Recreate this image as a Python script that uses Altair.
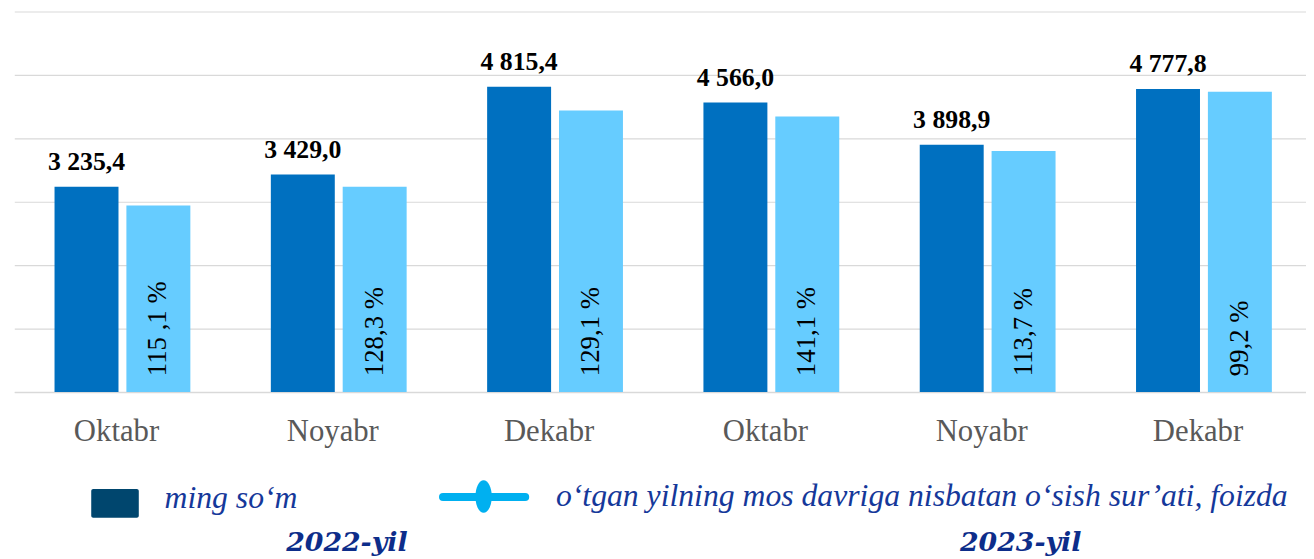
import altair as alt
import pandas as pd

# ---- data ----
months = ["Oktabr", "Noyabr", "Dekabr", "Oktabr", "Noyabr", "Dekabr"]
years = ["2022", "2022", "2022", "2023", "2023", "2023"]
ming_som = [3235.4, 3429.0, 4815.4, 4566.0, 3898.9, 4777.8]
growth_bar = [2940, 3235, 4440, 4345, 3800, 4735]  # drawn height of the light bars
growth_labels = ["115 ,1 %", "128,3 %", "129,1 %", "141,1 %", "113,7 %", "99,2 %"]
y_ticks = [0, 1000, 2000, 3000, 4000, 5000, 6000]
legend_labels = ["ming so\u2018m", "o\u2018tgan yilning mos davriga nisbatan o\u2018sish sur\u2019ati, foizda"]
year_labels = ["2022-yil", "2023-yil"]

keys = [f"{y}|{m}" for y, m in zip(years, months)]


def fmt(v):
    return f"{v:,.1f}".replace(",", " ").replace(".", ",")


rows = []
for k, v, g, gl in zip(keys, ming_som, growth_bar, growth_labels):
    rows.append({"key": k, "series": "a", "value": v, "label": fmt(v)})
    rows.append({"key": k, "series": "b", "value": g, "label": gl})
df = pd.DataFrame(rows)

SERIF = "Liberation Serif"
x_enc = alt.X(
    "key:N",
    sort=keys,
    scale=alt.Scale(range=[6.35, 1316.15], paddingInner=0, paddingOuter=0),
    axis=alt.Axis(
        title="",
        labelExpr="split(datum.label, '|')[1]",
        labelAngle=0,
        labelFont=SERIF,
        labelFontSize=31,
        labelColor="#595959",
        labelPadding=49,
        labelOffset=-6,
        labelBaseline="alphabetic",
        ticks=False,
        domainColor="#D9D9D9",
        domainWidth=1.5,
        grid=False,
    ),
)
xo_enc = alt.XOffset(
    "series:N",
    sort=["a", "b"],
    scale=alt.Scale(domain=["a", "b"], paddingInner=0.11, paddingOuter=0.56),
)
y_enc = alt.Y(
    "value:Q",
    scale=alt.Scale(domain=[0, 6000], nice=False, zero=True),
    axis=alt.Axis(
        title="",
        labels=False,
        ticks=False,
        domain=False,
        values=y_ticks,
        grid=True,
        gridColor="#D9D9D9",
        gridWidth=1.2,
        minExtent=0,
    ),
)

base = alt.Chart(df)

bars = base.mark_bar().encode(
    x=x_enc,
    xOffset=xo_enc,
    y=y_enc,
    color=alt.Color(
        "series:N",
        scale=alt.Scale(domain=["a", "b"], range=["#0070C0", "#66CCFF"]),
        legend=None,
    ),
)

value_text = base.transform_filter(alt.datum.series == "a").mark_text(
    font=SERIF, fontSize=26, fontWeight="bold", color="black",
    baseline="alphabetic", dy=-17,
).encode(x=x_enc, xOffset=xo_enc, y=y_enc, text="label:N")

pct_text = base.transform_filter(alt.datum.series == "b").mark_text(
    font=SERIF, fontSize=27, color="black", angle=270,
    align="left", baseline="middle",
).encode(x=x_enc, xOffset=xo_enc, y=alt.datum(250), text="label:N")

one = pd.DataFrame({"t": [legend_labels[0]]})
two = pd.DataFrame({"t": [legend_labels[1]]})
y1 = pd.DataFrame({"t": [year_labels[0]]})
y2 = pd.DataFrame({"t": [year_labels[1]]})

leg_square = alt.Chart(one).mark_rect(color="#00466E", cornerRadius=2).encode(
    x=alt.value(84), x2=alt.value(132), y=alt.value(482), y2=alt.value(511)
)
leg_text1 = alt.Chart(one).mark_text(
    font=SERIF, fontSize=32, fontStyle="italic", color="#15389A", align="left", baseline="alphabetic"
).encode(x=alt.value(158), y=alt.value(501), text="t:N")
leg_line = alt.Chart(two).mark_rule(color="#00B0F0", strokeWidth=8, strokeCap="round").encode(
    x=alt.value(439), x2=alt.value(522), y=alt.value(490)
)
leg_ellipse = alt.Chart(two).mark_point(
    shape="M0,-1 A0.5,1 0 1,1 0,1 A0.5,1 0 1,1 0,-1 Z",
    size=1089, filled=True, color="#00B0F0", opacity=1,
).encode(x=alt.value(480), y=alt.value(489.5))
leg_text2 = alt.Chart(two).mark_text(
    font=SERIF, fontSize=32, fontStyle="italic", color="#15389A", align="left", baseline="alphabetic"
).encode(x=alt.value(553), y=alt.value(499), text="t:N")
year1 = alt.Chart(y1).mark_text(
    font="DejaVu Serif", fontSize=27, fontStyle="italic", fontWeight="bold", color="#0D2D8A",
    align="center", baseline="alphabetic",
).encode(x=alt.value(342), y=alt.value(544), text="t:N")
year2 = alt.Chart(y2).mark_text(
    font="DejaVu Serif", fontSize=27, fontStyle="italic", fontWeight="bold", color="#0D2D8A",
    align="center", baseline="alphabetic",
).encode(x=alt.value(1022), y=alt.value(544), text="t:N")

chart = alt.layer(
    bars, value_text, pct_text,
    leg_square, leg_text1, leg_line, leg_ellipse, leg_text2, year1, year2,
).properties(
    width=1298, height=384,
    padding={"left": 0, "top": 1, "right": 0, "bottom": 0},
).configure_view(stroke=None)

chart.save("out.html", embed_options={"renderer": "svg", "actions": False})
